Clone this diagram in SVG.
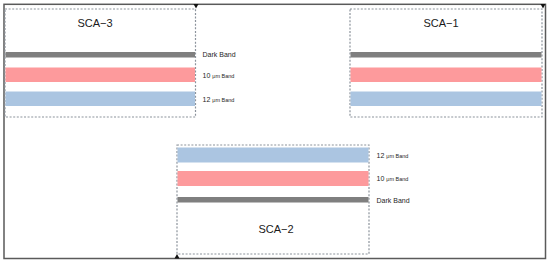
<svg xmlns="http://www.w3.org/2000/svg" width="550" height="262" viewBox="0 0 550 262">
<style>
.frame{fill:none;stroke:#5a5a5a;stroke-width:1.5}
.box{fill:#fff;stroke:#8c939c;stroke-width:1.2;stroke-dasharray:2 1.6}
.dark{fill:#7f7f7f}
.red{fill:#fd9a9c}
.blue{fill:#abc5e1}
.title{font-family:"Liberation Sans",Arial,sans-serif;font-size:11px;fill:#1a1a1a;text-anchor:middle}
.lbl{font-family:"Liberation Sans",Arial,sans-serif;font-size:7px;fill:#262626}
.sm{font-size:5.5px}
.tri{fill:#111}
</style>
<rect id="frame" class="frame" x="4" y="4.3" width="541.5" height="254.2"/>
<g id="sca3">
<rect class="box" x="5" y="9" width="190.5" height="108"/>
<rect class="dark" x="5.5" y="52" width="189.5" height="5.5"/>
<rect class="red" x="5.5" y="67.5" width="189.5" height="14.5"/>
<rect class="blue" x="5.5" y="91.5" width="189.5" height="14.5"/>
<text class="title" x="95" y="27">SCA−3</text>
<text class="lbl" x="202.5" y="57">Dark Band</text>
<text class="lbl" x="202.5" y="77.5">10 <tspan class="sm">μm Band</tspan></text>
<text class="lbl" x="202.5" y="101.5">12 <tspan class="sm">μm Band</tspan></text>
</g>
<g id="sca1">
<rect class="box" x="350" y="9" width="192" height="108"/>
<rect class="dark" x="350.5" y="52" width="191" height="5.5"/>
<rect class="red" x="350.5" y="67.5" width="191" height="14.5"/>
<rect class="blue" x="350.5" y="91.5" width="191" height="14.5"/>
<text class="title" x="441" y="27">SCA−1</text>
</g>
<g id="sca2">
<rect class="box" x="177" y="145" width="192" height="109"/>
<rect class="blue" x="177.5" y="147.5" width="191" height="15"/>
<rect class="red" x="177.5" y="171" width="191" height="15"/>
<rect class="dark" x="177.5" y="197" width="191" height="5.5"/>
<text class="title" x="276" y="233">SCA−2</text>
<text class="lbl" x="376.5" y="158">12 <tspan class="sm">μm Band</tspan></text>
<text class="lbl" x="376.5" y="181">10 <tspan class="sm">μm Band</tspan></text>
<text class="lbl" x="376.5" y="202.5">Dark Band</text>
</g>
<g id="markers">
<polygon class="tri" points="193.5,4 198.5,4 196,8.5"/>
<polygon class="tri" points="540.5,4 545.5,4 543,8.5"/>
<polygon class="tri" points="174.5,258.5 179.5,258.5 177,254"/>
</g>
</svg>
